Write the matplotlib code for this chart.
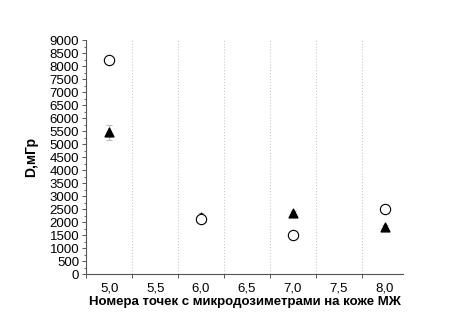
import numpy as np
import matplotlib
matplotlib.use('Agg')
import matplotlib.pyplot as plt
from matplotlib.ticker import MultipleLocator, FixedLocator, FuncFormatter

plt.rcParams['font.family'] = ['Liberation Sans', 'DejaVu Sans']

points = [5.0, 6.0, 7.0, 8.0]
circles = [8250, 2100, 1500, 2500]
triangles = [5450, 2180, 2350, 1800]
tri_err = [300, 150, 80, 80]

fig = plt.figure(figsize=(4.71, 3.31), dpi=100)
ax = fig.add_axes([0.183, 0.172, 0.673, 0.707])

ax.errorbar(points, triangles, yerr=tri_err, fmt='none', ecolor='#bbbbbb', elinewidth=0.8, capsize=2, capthick=0.8, zorder=2)
ax.scatter(points, triangles, marker='^', s=40, color='black', zorder=3)
ax.scatter(points, circles, marker='o', s=55, facecolors='white', edgecolors='black', linewidths=0.8, zorder=4)

ax.set_xlim(4.75, 8.2)
ax.set_ylim(0, 9000)
ax.xaxis.set_major_locator(FixedLocator([5.0, 5.5, 6.0, 6.5, 7.0, 7.5, 8.0]))
ax.xaxis.set_minor_locator(FixedLocator([4.75, 5.25, 5.75, 6.25, 6.75, 7.25, 7.75]))
ax.yaxis.set_major_locator(MultipleLocator(500))
ax.yaxis.set_minor_locator(MultipleLocator(250))
ax.xaxis.set_major_formatter(FuncFormatter(lambda v, p: f'{v:.1f}'.replace('.', ',')))

ax.grid(True, which='minor', axis='x', color='#cccccc', linestyle=':', linewidth=0.8)
for s in ['top', 'right']:
    ax.spines[s].set_visible(False)
for s in ['left', 'bottom']:
    ax.spines[s].set_color('#555555')
    ax.spines[s].set_linewidth(0.8)

ax.tick_params(axis='y', which='major', direction='out', length=3, width=0.7, colors='#555555', labelcolor='black', labelsize=9.5, pad=2)
ax.tick_params(axis='y', which='minor', direction='out', length=1.5, width=0.6, colors='#555555')
ax.tick_params(axis='x', which='major', length=0, labelcolor='black', labelsize=9.5, pad=6)
ax.tick_params(axis='x', which='minor', direction='out', length=3, width=0.7, colors='#555555')

ax.set_xlabel('Номера точек с микродозиметрами на коже МЖ', fontsize=9.5, fontweight='bold', labelpad=1)
ax.set_ylabel('D,мГр', fontsize=10, fontweight='bold', labelpad=8)

fig.savefig('out.png', dpi=100)
